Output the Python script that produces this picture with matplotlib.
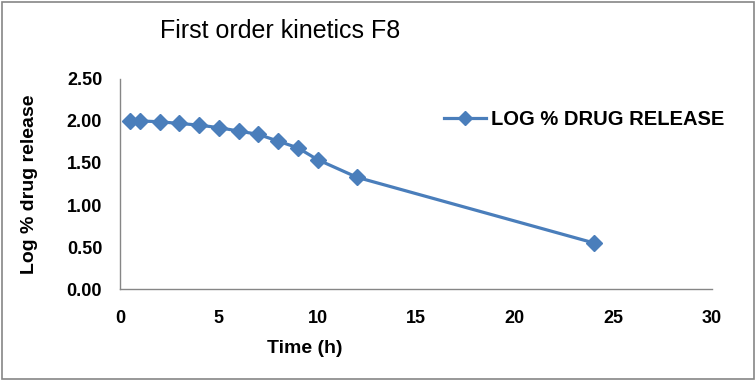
import matplotlib.pyplot as plt
import matplotlib.patches as pat

plt.rcParams['font.family'] = ['Liberation Sans', 'DejaVu Sans']

time_h = [0.5, 1, 2, 3, 4, 5, 6, 7, 8, 9, 10, 12, 24]
log_release = [2.00, 2.00, 1.99, 1.97, 1.95, 1.92, 1.88, 1.84, 1.76, 1.68, 1.54, 1.33, 0.55]
x_ticks = [0, 5, 10, 15, 20, 25, 30]
y_ticks = [0.0, 0.5, 1.0, 1.5, 2.0, 2.5]

blue = '#4a7ebb'

fig = plt.figure(figsize=(7.56, 3.81), dpi=100)
ax = fig.add_axes([0.159, 0.241, 0.783, 0.552])

ax.plot(time_h, log_release, color=blue, lw=2.3, marker='D', ms=8.5,
        label='LOG % DRUG RELEASE')

ax.set_xlim(0, 30)
ax.set_ylim(0, 2.5)
ax.set_xticks(x_ticks)
ax.set_yticks(y_ticks)
ax.set_yticklabels(['%.2f' % v for v in y_ticks])
ax.tick_params(length=0, labelsize=13)
for lab in ax.get_xticklabels() + ax.get_yticklabels():
    lab.set_fontweight('bold')
ax.tick_params(axis='x', pad=15)
ax.tick_params(axis='y', pad=13)

for s in ['top', 'right']:
    ax.spines[s].set_visible(False)
for s in ['left', 'bottom']:
    ax.spines[s].set_color('#868686')
    ax.spines[s].set_linewidth(1)

ax.set_xlabel('Time (h)', fontsize=14, fontweight='bold', va='center')
ax.xaxis.set_label_coords(0.311, -0.28)
ax.set_ylabel('Log % drug release', fontsize=14, fontweight='bold', va='center')
ax.yaxis.set_label_coords(-0.153, 0.5)

fig.text(0.211, 0.918, 'First order kinetics F8', fontsize=18, va='center')

ax.legend(loc='upper left', bbox_to_anchor=(0.533, 0.89), frameon=False,
          prop={'size': 14.5, 'weight': 'bold'}, handlelength=2.1,
          handletextpad=0.25, borderaxespad=0, markerscale=0.8)

fig.patches.append(pat.Rectangle((0.003, 0.005), 0.994, 0.99, transform=fig.transFigure,
                                 fill=False, edgecolor='#868686', lw=1.2))

fig.savefig('out.png', dpi=100)
